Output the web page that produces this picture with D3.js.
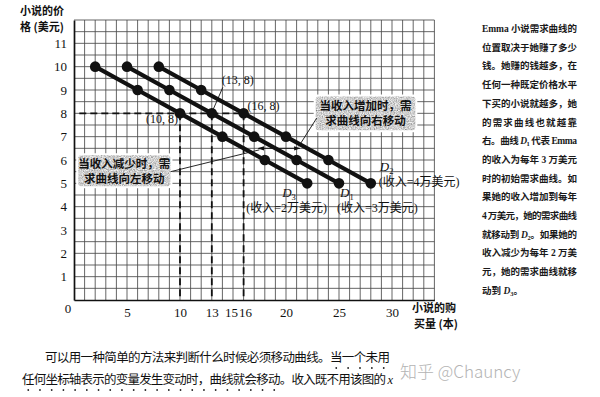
<!DOCTYPE html>
<html>
<head>
<meta charset="utf-8">
<script src="https://cdn.jsdelivr.net/npm/d3@7"></script>
<style>
  body { margin: 0; background: #fff; }
  svg { display: block; }
</style>
</head>
<body>
<script>
// chart values
const prices = [10, 9, 8, 7, 6, 5];
const qtyD3 = [2, 6, 10, 14, 18, 22];
const qtyD1 = [5, 9, 13, 17, 21, 25];
const qtyD2 = [8, 12, 16, 20, 24, 28];
const xTicks = [5, 10, 13, 15, 16, 20, 25, 30];
const yTicks = [1, 2, 3, 4, 5, 6, 7, 8, 9, 10, 11];
const refPrice = 8;
const refQty = [10, 13, 16];
const refLabels = ['(10, 8)', '(13, 8)', '(16, 8)'];
const curveSubs = ['3', '1', '2'];
const incomeLabels = ['(收入=2万美元)', '(收入=3万美元)', '(收入=4万美元)'];
const shiftPrice = 6.5;
const shiftQty = [17.4, 21.3];
const boxRightText = ['当收入增加时，需', '求曲线向右移动'];
const boxLeftText = ['当收入减少时，需', '求曲线向左移动'];

const noteLines = [
  'Emma 小说需求曲线的', '位置取决于她赚了多少', '钱。她赚的钱越多，在',
  '任何一种既定价格水平', '下买的小说就越多，她', '的需求曲线也就越靠',
  '右。曲线 D1 代表 Emma', '的收入为每年 3 万美元', '时的初始需求曲线。如',
  '果她的收入增加到每年', '4 万美元，她的需求曲线', '就移动到 D2。如果她的',
  '收入减少为每年 2 万美', '元，她的需求曲线就移', '动到 D3。'
];
const bodyLines = [
  '可以用一种简单的方法来判断什么时候必须移动曲线。当一个未用',
  '任何坐标轴表示的变量发生变动时，曲线就会移动。收入既不用该图的 x'
];

const width = 600;
const height = 397;
const serif = '"Liberation Serif", "Noto Sans CJK SC", serif';
const cjk = '"Noto Sans CJK SC", sans-serif';

const svg = d3.select('body').append('svg')
  .attr('width', width)
  .attr('height', height);

svg.append('rect').attr('width', width).attr('height', height).attr('fill', '#fff');

const defs = svg.append('defs');
const filt = defs.append('filter').attr('id', 'speckle')
  .attr('x', 0).attr('y', 0).attr('width', '100%').attr('height', '100%');
filt.append('feTurbulence').attr('type', 'fractalNoise')
  .attr('baseFrequency', 0.85).attr('numOctaves', 2).attr('seed', 4).attr('result', 'n');
filt.append('feColorMatrix').attr('in', 'n').attr('type', 'saturate').attr('values', 0).attr('result', 'g');
const ct = filt.append('feComponentTransfer').attr('in', 'g').attr('result', 'g2');
['feFuncR', 'feFuncG', 'feFuncB'].forEach(f => ct.append(f).attr('type', 'linear').attr('slope', 1.4).attr('intercept', -0.08));
ct.append('feFuncA').attr('type', 'linear').attr('slope', 0).attr('intercept', 1);
filt.append('feComposite').attr('in', 'g2').attr('in2', 'SourceGraphic').attr('operator', 'in');

defs.append('marker').attr('id', 'arrow')
  .attr('viewBox', '0 0 10 10').attr('refX', 9).attr('refY', 5)
  .attr('markerWidth', 7).attr('markerHeight', 7).attr('orient', 'auto-start-reverse')
  .append('path').attr('d', 'M0,1.5 L10,5 L0,8.5 Z').attr('fill', '#111');

// scales
const x = d3.scaleLinear().domain([0, 34]).range([74, 434.4]);
const y = d3.scaleLinear().domain([0, 12]).range([300, 20]);

// grid
const grid = svg.append('g').attr('stroke', '#4a4a4a').attr('stroke-width', 0.85);
grid.selectAll('line.v').data(d3.range(1, 35)).join('line')
  .attr('class', 'v')
  .attr('x1', d => x(d)).attr('x2', d => x(d))
  .attr('y1', y(0)).attr('y2', y(12));
grid.selectAll('line.h').data(d3.range(1, 25).map(i => i / 2)).join('line')
  .attr('class', 'h')
  .attr('x1', x(0)).attr('x2', x(34))
  .attr('y1', d => y(d)).attr('y2', d => y(d));

// axes
const yAxis = svg.append('g')
  .attr('transform', `translate(${x(0)},0)`)
  .call(d3.axisLeft(y).tickValues(yTicks).tickSize(0).tickSizeOuter(0).tickPadding(7));
const xAxis = svg.append('g')
  .attr('transform', `translate(0,${y(0)})`)
  .call(d3.axisBottom(x).tickValues(xTicks).tickSize(0).tickSizeOuter(0).tickPadding(8));
[xAxis, yAxis].forEach(a => {
  a.select('.domain').attr('stroke', '#111').attr('stroke-width', 1.7);
  a.selectAll('text').attr('font-family', serif).attr('font-size', 13).attr('fill', '#111');
});
xAxis.selectAll('.tick text')
  .attr('dx', d => d === 15 ? -2 : d === 16 ? 1.5 : 0);
svg.append('text')
  .attr('x', x(0) - 6).attr('y', y(0) + 13)
  .attr('text-anchor', 'middle')
  .attr('font-family', serif).attr('font-size', 13).attr('fill', '#111')
  .text('0');

// axis titles
const yTitle = svg.append('g').attr('font-family', cjk).attr('font-size', 11)
  .attr('font-weight', 600).attr('fill', '#111');
yTitle.append('text').attr('x', 20).attr('y', 15).text('小说的价');
yTitle.append('text').attr('x', 20).attr('y', 31).text('格 (美元)');
const xTitle = svg.append('g').attr('font-family', cjk).attr('font-size', 11)
  .attr('font-weight', 600).attr('fill', '#111');
xTitle.append('text').attr('x', 412).attr('y', 312).text('小说的购');
xTitle.append('text').attr('x', 414).attr('y', 328).text('买量 (本)');

// dashed reference lines
const dash = svg.append('g').attr('stroke', '#111').attr('stroke-width', 1.8)
  .attr('stroke-dasharray', '7,4').attr('fill', 'none');
dash.append('line')
  .attr('x1', x(0.5)).attr('x2', x(d3.max(refQty)))
  .attr('y1', y(refPrice)).attr('y2', y(refPrice));
dash.selectAll('line.vr').data(refQty).join('line')
  .attr('class', 'vr')
  .attr('x1', d => x(d)).attr('x2', d => x(d))
  .attr('y1', y(refPrice)).attr('y2', y(0));

// annotation boxes
function drawBox(q0, q1, p0, p1, lines) {
  const bx = x(q0), by = y(p0), bw = x(q1) - x(q0), bh = y(p1) - y(p0);
  svg.append('rect').attr('x', bx - 2).attr('y', by - 2)
    .attr('width', bw + 4).attr('height', bh + 4).attr('rx', 4)
    .attr('fill', '#fff');
  svg.append('rect').attr('x', bx).attr('y', by)
    .attr('width', bw).attr('height', bh).attr('rx', 3)
    .attr('fill', '#888').attr('filter', 'url(#speckle)');
  svg.append('g').attr('font-family', cjk).attr('font-size', 11.5)
    .attr('font-weight', 700).attr('fill', '#111').attr('text-anchor', 'middle')
    .selectAll('text').data(lines).join('text')
    .attr('x', bx + bw / 2)
    .attr('y', (d, i) => by + 13 + i * 15)
    .text(d => d);
  return { bx, by, bw, bh };
}
const rb = drawBox(22.8, 32.2, 8.72, 7.28, boxRightText);
const lb = drawBox(0.4, 9.1, 6.2, 4.88, boxLeftText);

// shift arrow and leaders
svg.append('line')
  .attr('x1', x(shiftQty[0])).attr('x2', x(shiftQty[1]))
  .attr('y1', y(shiftPrice)).attr('y2', y(shiftPrice))
  .attr('stroke', '#111').attr('stroke-width', 0.9)
  .attr('marker-start', 'url(#arrow)').attr('marker-end', 'url(#arrow)');
const lead = svg.append('g').attr('stroke', '#111').attr('stroke-width', 0.9);
lead.append('line')
  .attr('x1', rb.bx + 1).attr('y1', rb.by + rb.bh - 12)
  .attr('x2', x(shiftQty[1]) - 1).attr('y2', y(shiftPrice) - 2);
lead.append('line')
  .attr('x1', lb.bx + lb.bw).attr('y1', lb.by + lb.bh / 2 + 1)
  .attr('x2', x(shiftQty[0]) + 1).attr('y2', y(shiftPrice) + 1.5);

// demand curves
const curves = [
  { qty: qtyD3, sub: curveSubs[0], inc: incomeLabels[0], ndx: -25, ndy: 14, idx: -61, idy: 29 },
  { qty: qtyD1, sub: curveSubs[1], inc: incomeLabels[1], ndx: 1, ndy: 14, idx: -2, idy: 29 },
  { qty: qtyD2, sub: curveSubs[2], inc: incomeLabels[2], ndx: 9, ndy: -12, idx: 8, idy: 3 }
];
const line = d3.line().x(d => x(d.q)).y(d => y(d.p));
curves.forEach(c => {
  const pts = c.qty.map((q, i) => ({ q, p: prices[i] }));
  svg.append('path').datum(pts)
    .attr('d', line)
    .attr('fill', 'none').attr('stroke', '#111').attr('stroke-width', 4.2)
    .attr('stroke-linecap', 'round');
  svg.append('g').selectAll('circle').data(pts).join('circle')
    .attr('cx', d => x(d.q)).attr('cy', d => y(d.p)).attr('r', 5.3)
    .attr('fill', '#111');
  const end = pts[pts.length - 1];
  const name = svg.append('text')
    .attr('x', x(end.q) + c.ndx).attr('y', y(end.p) + c.ndy)
    .attr('font-family', serif).attr('font-size', 13).attr('font-style', 'italic')
    .attr('fill', '#111');
  name.append('tspan').text('D');
  name.append('tspan').attr('font-size', 8.5).attr('dy', 3).attr('font-style', 'normal').text(c.sub);
  svg.append('text')
    .attr('x', x(end.q) + c.idx).attr('y', y(end.p) + c.idy)
    .attr('font-family', serif).attr('font-size', 12).attr('fill', '#111')
    .text(c.inc);
});

// point labels
const pl = svg.append('g').attr('font-family', serif).attr('font-size', 12).attr('fill', '#111');
pl.append('text').attr('x', x(refQty[0]) - 2).attr('y', y(refPrice) + 10)
  .attr('text-anchor', 'end').text(refLabels[0]);
pl.append('text').attr('x', x(refQty[1]) + 10).attr('y', y(refPrice) - 29).text(refLabels[1]);
pl.append('text').attr('x', x(refQty[2]) + 4).attr('y', y(refPrice) - 3).text(refLabels[2]);
svg.append('line')
  .attr('x1', x(refQty[1]) + 1).attr('y1', y(refPrice) - 3)
  .attr('x2', x(refQty[1]) + 11).attr('y2', y(refPrice) - 26)
  .attr('stroke', '#111').attr('stroke-width', 0.9);

// side note
const note = svg.append('g').attr('font-family', '"Liberation Serif", "Noto Sans CJK SC", serif')
  .attr('font-size', 9.5).attr('font-weight', 700).attr('fill', '#1a1a1a');
noteLines.forEach((t, i) => {
  const tx = note.append('text').attr('x', 482).attr('y', 32 + i * 18.7);
  if (i < noteLines.length - 1) tx.attr('textLength', 95).attr('lengthAdjust', 'spacing');
  const m = t.match(/^(.*?)D(\d)(.*)$/);
  if (m) {
    tx.append('tspan').text(m[1]);
    tx.append('tspan').attr('font-style', 'italic').text('D');
    tx.append('tspan').attr('font-size', 6.5).attr('dy', 2).text(m[2]);
    tx.append('tspan').attr('dy', -2).text(m[3]);
  } else {
    tx.text(t);
  }
});

// body text
const body = svg.append('g').attr('font-family', '"Liberation Serif", "Noto Sans CJK SC", serif')
  .attr('font-size', 12.5).attr('fill', '#111');
const b1 = body.append('text').attr('x', 45).attr('y', 362)
  .attr('textLength', 345).attr('lengthAdjust', 'spacing').text(bodyLines[0]);
const b2 = body.append('text').attr('x', 22).attr('y', 384)
  .attr('textLength', 371).attr('lengthAdjust', 'spacing');
b2.append('tspan').text(bodyLines[1].slice(0, -1));
b2.append('tspan').attr('font-style', 'italic').text(bodyLines[1].slice(-1));

// emphasis dots
function dotsUnder(textSel, from, to, dy) {
  const node = textSel.node();
  const dots = [];
  for (let i = from; i <= to; i++) {
    const e = node.getExtentOfChar(i);
    dots.push(e.x + e.width / 2);
  }
  svg.append('g').selectAll('circle').data(dots).join('circle')
    .attr('cx', d => d).attr('cy', +textSel.attr('y') + dy).attr('r', 0.9).attr('fill', '#222');
}
dotsUnder(b1, 24, 28, 6);
dotsUnder(b2, 0, 21, 6);

// watermark
svg.append('text')
  .attr('x', 400).attr('y', 378)
  .attr('font-family', cjk).attr('font-size', 17).attr('font-weight', 300)
  .attr('fill', '#b4b4b4')
  .text('知乎 @Chauncy');
</script>
</body>
</html>
